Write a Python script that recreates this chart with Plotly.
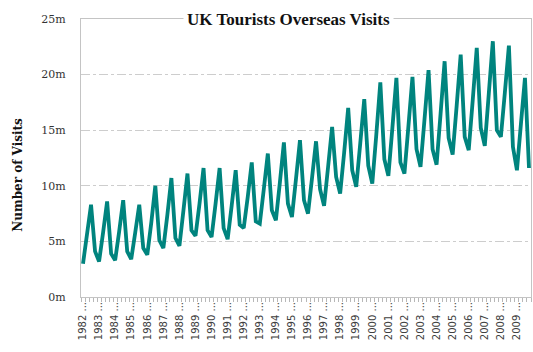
import plotly.graph_objects as go

# Quarterly visits abroad by UK residents, millions
years = list(range(1982, 2010))
quarters = ["Q1", "Q2", "Q3", "Q4"]
visits_m = [
    3.0, 5.6, 8.3, 4.1,     # 1982
    3.2, 5.8, 8.6, 3.9,     # 1983
    3.3, 5.9, 8.7, 4.1,     # 1984
    3.4, 5.8, 8.3, 4.4,     # 1985
    3.8, 6.7, 10.0, 5.1,    # 1986
    4.4, 7.4, 10.7, 5.3,    # 1987
    4.6, 7.8, 11.1, 6.0,    # 1988
    5.5, 8.4, 11.6, 6.0,    # 1989
    5.4, 8.4, 11.6, 6.2,    # 1990
    5.2, 8.2, 11.4, 6.5,    # 1991
    6.2, 9.0, 12.1, 6.8,    # 1992
    6.6, 9.7, 12.9, 7.8,    # 1993
    6.9, 10.3, 13.9, 8.4,   # 1994
    7.2, 10.6, 14.1, 8.7,   # 1995
    7.5, 10.7, 14.0, 9.7,   # 1996
    8.2, 11.7, 15.3, 10.8,  # 1997
    9.3, 13.0, 17.0, 11.4,  # 1998
    9.9, 13.8, 17.8, 11.8,  # 1999
    10.2, 14.6, 19.3, 12.4, # 2000
    10.9, 15.2, 19.7, 12.1, # 2001
    11.1, 15.4, 19.8, 13.3, # 2002
    11.7, 16.0, 20.4, 13.3, # 2003
    11.9, 16.5, 21.2, 14.3, # 2004
    12.8, 17.2, 21.8, 14.4, # 2005
    13.2, 17.7, 22.4, 15.2, # 2006
    13.6, 18.3, 23.0, 15.0, # 2007
    14.4, 18.4, 22.6, 13.5, # 2008
    11.4, 15.6, 19.7, 11.6, # 2009
]
y_ticks = [0, 5, 10, 15, 20, 25]
y_tick_labels = [f"{v}m" for v in y_ticks]

categories = [f"{y} {q}" for y in years for q in quarters]
# only the first quarter of each year carries a (truncated) label
tick_text = [f"{c.split()[0]} ..." if c.endswith("Q1") else "" for c in categories]

fig = go.Figure(
    go.Scatter(
        x=categories,
        y=visits_m,
        mode="lines",
        line=dict(color="#00847e", width=3.8),
        hoverinfo="x+y",
    )
)

serif = "DejaVu Serif"
fig.update_layout(
    width=533,
    height=352,
    margin=dict(l=81, r=2, t=19, b=55),
    paper_bgcolor="white",
    plot_bgcolor="white",
    showlegend=False,
    xaxis=dict(
        type="category",
        categoryorder="array",
        categoryarray=categories,
        tickmode="array",
        tickvals=categories,
        ticktext=tick_text,
        tickson="boundaries",
        ticks="outside",
        ticklen=4,
        tickcolor="#b8b8b8",
        tickangle=-90,
        tickfont=dict(family="DejaVu Sans", size=10, color="#404040"),
        showgrid=False,
        showline=True,
        linecolor="#c4c4c4",
        linewidth=1,
        mirror=True,
        range=[-0.5, len(categories) - 0.5],
    ),
    yaxis=dict(
        range=[0, 25],
        tickmode="array",
        tickvals=y_ticks,
        ticktext=y_tick_labels,
        ticks="",
        tickfont=dict(family=serif, size=11, color="#333333"),
        showgrid=True,
        gridcolor="#cdcdcd",
        gridwidth=1,
        griddash="dashdot",
        zeroline=False,
        showline=True,
        linecolor="#c4c4c4",
        linewidth=1,
        mirror=True,
        ticklabelstandoff=12,
    ),
    annotations=[
        dict(
            text="<b>UK Tourists Overseas Visits</b>",
            xref="paper", yref="paper",
            x=0.46, y=1.0,
            xanchor="center", yanchor="middle",
            showarrow=False,
            bgcolor="white",
            borderpad=3,
            font=dict(family="Liberation Serif", size=17, color="#111111"),
        ),
        dict(
            text="<b>Number of Visits</b>",
            xref="paper", yref="paper",
            x=-0.14, y=0.44,
            xanchor="center", yanchor="middle",
            textangle=-90,
            showarrow=False,
            font=dict(family=serif, size=12, color="#111111"),
        ),
    ],
)

fig.write_html("out.html")
